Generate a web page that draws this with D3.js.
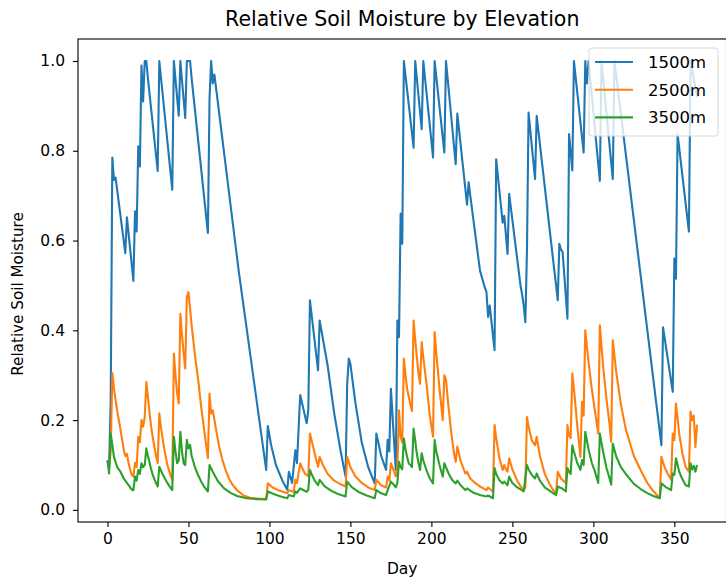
<!DOCTYPE html>
<html>
<head>
<meta charset="utf-8">
<script src="https://cdn.jsdelivr.net/npm/d3@7"></script>
<style>
body { margin: 0; background: #fff; }
text { font-family: "DejaVu Sans", sans-serif; fill: #000; }
</style>
</head>
<body>
<div id="chart"></div>
<script>
var xTicks = [0, 50, 100, 150, 200, 250, 300, 350],
    yTicks = [0, 0.2, 0.4, 0.6, 0.8, 1.0],
    seriesNames = ["1500m", "2500m", "3500m"];

// [day, relative soil moisture]
var moisture1500 = [
  [0,0.11],[1,0.095],[2,0.245],[3,0.785],[4,0.735],[5,0.74],[11,0.572],[12,0.652],[16,0.51],[17,0.665],
  [18,0.62],[19,0.81],[20,0.765],[21,0.99],[22,0.91],[23,1.0],[24,1.0],[25,0.96],[31,0.755],[32,1.0],
  [40,0.713],[41,1.0],[44,0.878],[45,1.0],[48,0.873],[49,1.0],[51,1.0],[52,0.96],[62,0.617],[63,0.915],
  [64,1.0],[65,0.95],[66,0.97],[81,0.533],[98,0.089],[99,0.187],[101,0.145],[104,0.1],[108,0.065],[111,0.045],
  [112,0.085],[114,0.06],[116,0.133],[117,0.104],[119,0.256],[123,0.193],[124,0.222],[125,0.467],[130,0.311],[131,0.422],
  [136,0.32],[140,0.215],[144,0.13],[147,0.074],[148,0.28],[149,0.337],[150,0.325],[153,0.24],[157,0.15],[161,0.095],
  [165,0.059],[166,0.17],[169,0.12],[172,0.089],[173,0.156],[174,0.13],[175,0.27],[178,0.089],[179,0.422],[180,0.385],
  [181,0.66],[182,0.593],[183,1.0],[189,0.807],[190,1.0],[194,0.848],[195,1.0],[198,0.893],[201,0.785],[202,1.0],
  [208,0.796],[209,1.0],[215,0.77],[216,0.883],[222,0.68],[223,0.73],[224,0.70],[230,0.533],[233,0.495],[234,0.485],
  [235,0.43],[236,0.455],[239,0.356],[240,0.781],[244,0.64],[245,0.655],[247,0.57],[248,0.704],[255,0.50],[256,0.48],
  [257,0.455],[258,0.418],[259,0.578],[260,0.885],[264,0.737],[265,0.878],[276,0.53],[277,0.50],[278,0.467],[279,0.593],
  [280,0.58],[281,0.575],[284,0.426],[285,0.837],[287,0.756],[288,1.0],[294,0.796],[295,1.0],[296,0.95],[297,1.0],
  [304,0.733],[305,1.0],[312,0.737],[313,1.0],[342,0.144],[343,0.407],[349,0.263],[350,0.56],[351,0.515],[352,0.837],
  [359,0.62],[360,1.0],[364,0.92]
];

var moisture2500 = [
  [0,0.11],[1,0.095],[2,0.13],[3,0.305],[4,0.27],[5,0.245],[6,0.22],[8,0.18],[10,0.135],[11,0.12],
  [12,0.125],[13,0.105],[14,0.09],[15,0.078],[16,0.074],[17,0.105],[18,0.095],[19,0.163],[20,0.15],[21,0.2],
  [22,0.185],[23,0.207],[24,0.285],[25,0.25],[26,0.215],[27,0.185],[28,0.16],[29,0.14],[30,0.12],[31,0.104],
  [32,0.215],[33,0.185],[34,0.16],[35,0.137],[36,0.118],[37,0.1],[38,0.088],[39,0.076],[40,0.067],[41,0.348],
  [42,0.3],[43,0.26],[44,0.237],[45,0.437],[46,0.39],[47,0.35],[48,0.315],[49,0.474],[50,0.485],[52,0.41],
  [54,0.345],[56,0.29],[58,0.225],[60,0.17],[62,0.115],[63,0.259],[64,0.215],[65,0.222],[67,0.18],[69,0.14],
  [71,0.111],[73,0.088],[75,0.07],[77,0.057],[80,0.044],[84,0.032],[88,0.027],[93,0.025],[98,0.024],[99,0.059],
  [102,0.05],[106,0.043],[111,0.037],[112,0.044],[115,0.04],[116,0.067],[117,0.06],[119,0.104],[120,0.095],[122,0.08],
  [124,0.075],[125,0.17],[126,0.155],[128,0.125],[130,0.096],[131,0.118],[133,0.1],[136,0.08],[140,0.065],[144,0.057],
  [147,0.052],[148,0.118],[150,0.095],[153,0.075],[157,0.06],[161,0.05],[165,0.044],[166,0.067],[169,0.055],[172,0.05],
  [173,0.074],[174,0.065],[175,0.104],[177,0.085],[178,0.075],[179,0.09],[180,0.222],[181,0.163],[182,0.15],[183,0.337],
  [184,0.3],[185,0.27],[186,0.252],[187,0.235],[188,0.22],[189,0.422],[190,0.38],[191,0.34],[192,0.305],[193,0.281],
  [194,0.374],[195,0.34],[197,0.28],[199,0.21],[201,0.163],[202,0.396],[203,0.35],[205,0.27],[207,0.2],[208,0.3],
  [209,0.29],[210,0.25],[212,0.18],[214,0.125],[215,0.107],[216,0.141],[218,0.11],[220,0.09],[221,0.081],[222,0.085],
  [224,0.07],[227,0.06],[230,0.052],[234,0.044],[235,0.05],[238,0.041],[239,0.189],[240,0.16],[242,0.115],[244,0.089],
  [245,0.1],[246,0.09],[247,0.085],[248,0.115],[250,0.09],[253,0.065],[255,0.053],[257,0.044],[258,0.05],[259,0.207],
  [260,0.185],[262,0.155],[264,0.144],[265,0.163],[267,0.12],[270,0.08],[273,0.057],[275,0.045],[277,0.037],[278,0.085],
  [280,0.07],[282,0.063],[283,0.06],[284,0.189],[285,0.165],[286,0.16],[287,0.304],[288,0.27],[290,0.19],[292,0.118],
  [293,0.241],[294,0.21],[295,0.4],[297,0.33],[299,0.27],[301,0.22],[303,0.17],[304,0.411],[306,0.32],[308,0.25],
  [310,0.19],[311,0.152],[312,0.378],[314,0.31],[317,0.235],[320,0.18],[325,0.12],[329,0.09],[333,0.062],[337,0.042],
  [341,0.026],[342,0.118],[344,0.095],[346,0.08],[348,0.067],[349,0.17],[350,0.155],[351,0.237],[353,0.17],[355,0.125],
  [357,0.095],[359,0.085],[360,0.219],[361,0.2],[362,0.21],[363,0.14],[364,0.19]
];

var moisture3500 = [
  [0,0.11],[1,0.081],[2,0.17],[3,0.145],[4,0.118],[6,0.095],[8,0.085],[10,0.07],[13,0.055],[15,0.045],
  [16,0.044],[17,0.074],[18,0.065],[19,0.089],[20,0.08],[21,0.104],[22,0.095],[23,0.1],[24,0.137],[25,0.12],
  [26,0.105],[27,0.09],[28,0.078],[29,0.068],[30,0.06],[31,0.052],[32,0.096],[34,0.08],[36,0.066],[38,0.054],
  [40,0.044],[41,0.163],[42,0.13],[43,0.104],[44,0.11],[45,0.174],[46,0.13],[47,0.104],[48,0.1],[49,0.156],
  [50,0.137],[51,0.145],[52,0.12],[54,0.095],[56,0.077],[58,0.062],[60,0.05],[62,0.041],[63,0.1],[65,0.085],
  [68,0.065],[72,0.048],[76,0.038],[80,0.031],[86,0.026],[92,0.024],[98,0.023],[99,0.041],[103,0.035],[107,0.03],
  [111,0.026],[112,0.033],[115,0.03],[116,0.041],[117,0.038],[119,0.048],[120,0.046],[123,0.04],[124,0.045],[125,0.089],
  [126,0.08],[128,0.065],[130,0.055],[131,0.067],[134,0.053],[138,0.043],[142,0.036],[147,0.03],[148,0.063],[151,0.05],
  [155,0.04],[160,0.032],[165,0.026],[166,0.044],[169,0.037],[172,0.033],[173,0.044],[175,0.063],[177,0.055],[178,0.05],
  [179,0.06],[180,0.107],[181,0.095],[182,0.09],[183,0.159],[184,0.135],[185,0.118],[186,0.104],[187,0.1],[188,0.095],
  [189,0.181],[190,0.155],[191,0.125],[192,0.105],[193,0.089],[194,0.126],[195,0.11],[197,0.088],[199,0.07],[201,0.059],
  [202,0.156],[203,0.13],[205,0.1],[207,0.074],[208,0.104],[209,0.095],[211,0.078],[213,0.066],[215,0.059],[216,0.065],
  [218,0.055],[221,0.044],[222,0.048],[226,0.038],[230,0.033],[234,0.03],[235,0.032],[238,0.026],[239,0.093],[240,0.08],
  [242,0.066],[244,0.059],[245,0.063],[247,0.055],[248,0.074],[250,0.06],[253,0.05],[257,0.041],[259,0.1],[260,0.09],
  [262,0.078],[264,0.07],[265,0.081],[267,0.065],[270,0.05],[274,0.04],[277,0.033],[278,0.052],[281,0.047],[283,0.041],
  [284,0.093],[285,0.085],[286,0.08],[287,0.144],[288,0.13],[290,0.105],[292,0.089],[293,0.111],[294,0.1],[295,0.174],
  [297,0.135],[299,0.105],[301,0.085],[303,0.06],[304,0.17],[306,0.13],[308,0.095],[310,0.07],[311,0.056],[312,0.148],
  [314,0.12],[317,0.095],[320,0.08],[325,0.058],[329,0.047],[333,0.038],[337,0.031],[341,0.026],[342,0.059],[345,0.05],
  [348,0.044],[349,0.081],[350,0.078],[351,0.115],[353,0.085],[355,0.068],[357,0.055],[359,0.052],[360,0.104],[361,0.09],
  [362,0.098],[363,0.085],[364,0.1]
];

var colors = ["#1f77b4", "#ff7f0e", "#2ca02c"];

var margin = { top: 39, right: -0.5, bottom: 60, left: 78 },
    width = 726 - margin.left - margin.right,
    height = 582 - margin.top - margin.bottom,
    svg;

function draw(config) {
    var series = config.series;

    var x = d3.scaleLinear().domain([-18.2, 382.2]).range([0, width]),
        y = d3.scaleLinear().domain([-0.027, 1.049]).range([height, 0]);

    var line = d3.line()
        .x(function(d) { return x(d[0]); })
        .y(function(d) { return y(d[1]); });

    var root = d3.select("#" + config.element).append("svg")
        .attr("width", 726)
        .attr("height", 582);

    svg = root.append("g")
        .attr("transform", "translate(" + margin.left + "," + margin.top + ")");

    // the lines
    series.forEach(function(s, i) {
        svg.append("path")
            .datum(s.values)
            .attr("fill", "none")
            .attr("stroke", colors[i])
            .attr("stroke-width", 2.1)
            .attr("stroke-linejoin", "round")
            .attr("d", line);
    });

    // axes
    var xAxis = svg.append("g")
        .attr("transform", "translate(0," + height + ")")
        .call(d3.axisBottom(x).tickValues(xTicks).tickSize(5).tickPadding(6).tickSizeOuter(0));
    var yAxis = svg.append("g")
        .call(d3.axisLeft(y).tickValues(yTicks).tickFormat(d3.format(".1f")).tickSize(5).tickPadding(8).tickSizeOuter(0));
    [xAxis, yAxis].forEach(function(a) {
        a.select(".domain").remove();
        a.selectAll("line").attr("stroke", "#000").attr("stroke-width", 1.1);
        a.selectAll("text").attr("font-size", 15.5).attr("font-family", "DejaVu Sans").attr("fill", "#000");
    });

    // frame
    svg.append("rect")
        .attr("width", width)
        .attr("height", height)
        .attr("fill", "none")
        .attr("stroke", "#000")
        .attr("stroke-width", 1.1);

    // labels
    root.append("text")
        .attr("x", margin.left + x(182))
        .attr("y", 26)
        .attr("text-anchor", "middle")
        .attr("font-size", 20.5)
        .text("Relative Soil Moisture by Elevation");
    root.append("text")
        .attr("x", margin.left + x(182))
        .attr("y", 574)
        .attr("text-anchor", "middle")
        .attr("font-size", 15.5)
        .text("Day");
    root.append("text")
        .attr("transform", "translate(23,294) rotate(-90)")
        .attr("text-anchor", "middle")
        .attr("font-size", 15.2)
        .text("Relative Soil Moisture");

    // legend
    var legend = svg.append("g")
        .attr("transform", "translate(" + (589 - margin.left) + "," + (48 - margin.top) + ")");
    legend.append("rect")
        .attr("width", 129)
        .attr("height", 88)
        .attr("rx", 3)
        .attr("fill", "#fff")
        .attr("fill-opacity", 0.8)
        .attr("stroke", "#d6d6d6")
        .attr("stroke-width", 1);
    series.forEach(function(s, i) {
        var g = legend.append("g").attr("transform", "translate(0," + (14 + i * 27.7) + ")");
        g.append("line")
            .attr("x1", 6).attr("x2", 44)
            .attr("stroke", colors[i])
            .attr("stroke-width", 2.1);
        g.append("text")
            .attr("x", 59)
            .attr("dy", "0.36em")
            .attr("font-size", 16.5)
            .text(s.name);
    });
}

draw({
    series: [
        { name: seriesNames[0], values: moisture1500 },
        { name: seriesNames[1], values: moisture2500 },
        { name: seriesNames[2], values: moisture3500 }
    ],
    element: "chart"
});
</script>
</body>
</html>
